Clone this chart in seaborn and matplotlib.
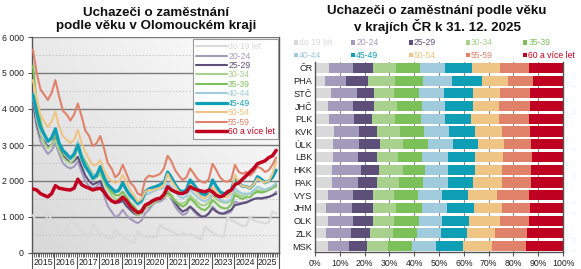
import numpy as np
import pandas as pd
import matplotlib
matplotlib.use("Agg")
import matplotlib.pyplot as plt
import seaborn as sns
from matplotlib.lines import Line2D
from matplotlib.patches import Rectangle
from matplotlib.colors import LinearSegmentedColormap
import matplotlib.transforms as mtransforms

# ---------------- data ----------------
years = list(range(2015, 2026))
sample_months = [1, 3, 5, 7, 9, 11]   # months (every 2nd month)

age_groups = ["do 19 let", "20-24", "25-29", "30-34", "35-39",
              "40-44", "45-49", "50-54", "55-59", "60 a více let"]
colors = ["#D9D9D9", "#A39BBB", "#5E4F7A", "#A9D18E", "#7CC05A",
          "#9FCBDC", "#0E9FB7", "#EEC584", "#E0826A", "#C00020"]

# Olomoucký kraj, number of job seekers by age (Jan, Mar, May, Jul, Sep, Nov of 2015..2025)
do19 = [1050, 850, 720, 680, 1150, 900,
        800, 700, 620, 580, 950, 800,
        750, 620, 520, 450, 800, 650,
        560, 480, 420, 380, 650, 550,
        460, 380, 320, 280, 600, 480,
        450, 450, 450, 450, 800, 680,
        650, 600, 550, 480, 560, 500,
        520, 480, 420, 380, 730, 640,
        560, 500, 470, 450, 1000, 900,
        870, 800, 750, 760, 1010, 900,
        870, 850, 820, 850, 1150, 1100]
age_20_24 = [4150, 3500, 3100, 2900, 2750, 2850,
             3050, 2750, 2500, 2400, 2350, 2400,
             2540, 2250, 2000, 1850, 1800, 1850,
             1950, 1600, 1300, 1150, 1000, 1050,
             1200, 1050, 950, 880, 830, 900,
             1100, 1200, 1350, 1420, 1430, 1500,
             1660, 1500, 1290, 1150, 1060, 1100,
             1290, 1150, 1050, 1010, 1000, 1100,
             1290, 1180, 1100, 1080, 1100, 1150,
             1430, 1380, 1400, 1420, 1450, 1500,
             1520, 1500, 1520, 1550, 1600, 1700]
age_25_29 = [4200, 3600, 3250, 3100, 2950, 3000,
             3180, 2900, 2700, 2600, 2500, 2550,
             2670, 2400, 2150, 2000, 1900, 1950,
             2000, 1750, 1550, 1450, 1400, 1400,
             1450, 1300, 1200, 1100, 1050, 1100,
             1240, 1300, 1400, 1450, 1500, 1550,
             1700, 1550, 1400, 1250, 1150, 1200,
             1290, 1200, 1100, 1010, 1020, 1100,
             1240, 1150, 1100, 1100, 1150, 1200,
             1330, 1350, 1380, 1400, 1450, 1500,
             1520, 1520, 1540, 1560, 1600, 1650]
age_30_34 = [4400, 3700, 3300, 3050, 2900, 3000,
             3150, 2850, 2650, 2550, 2500, 2600,
             2950, 2600, 2400, 2250, 2050, 2100,
             2200, 1950, 1750, 1600, 1500, 1500,
             1600, 1450, 1300, 1150, 1050, 1100,
             1240, 1300, 1380, 1450, 1500, 1550,
             1610, 1550, 1450, 1380, 1380, 1420,
             1600, 1500, 1400, 1330, 1330, 1400,
             1610, 1500, 1430, 1400, 1400, 1450,
             1700, 1620, 1580, 1620, 1650, 1720,
             1750, 1730, 1750, 1800, 1820, 1840]
age_35_39 = [5200, 4200, 3650, 3300, 3100, 3150,
             3280, 3000, 2810, 2700, 2630, 2750,
             3090, 2750, 2540, 2350, 2170, 2200,
             2300, 2050, 1850, 1700, 1610, 1600,
             1700, 1550, 1400, 1300, 1150, 1200,
             1330, 1380, 1430, 1500, 1520, 1600,
             1700, 1600, 1450, 1350, 1290, 1350,
             1520, 1420, 1300, 1220, 1190, 1280,
             1470, 1380, 1280, 1240, 1240, 1350,
             1610, 1550, 1500, 1550, 1550, 1650,
             1700, 1680, 1700, 1750, 1800, 1890]
age_40_44 = [4300, 3800, 3450, 3250, 3100, 3200,
             3400, 3050, 2850, 2750, 2650, 2750,
             3100, 2750, 2450, 2300, 2150, 2200,
             2350, 2100, 1900, 1800, 1700, 1700,
             1900, 1700, 1550, 1450, 1330, 1400,
             1610, 1650, 1700, 1750, 1780, 1800,
             1935, 1850, 1700, 1580, 1520, 1580,
             1750, 1650, 1550, 1470, 1430, 1500,
             1660, 1580, 1480, 1430, 1430, 1500,
             1800, 1700, 1650, 1650, 1650, 1750,
             1840, 1800, 1750, 1800, 1850, 1950]
age_45_49 = [4400, 3900, 3500, 3300, 3100, 3200,
             3450, 3050, 2850, 2750, 2630, 2750,
             3000, 2650, 2400, 2250, 2070, 2150,
             2400, 2100, 1900, 1800, 1700, 1750,
             1950, 1750, 1600, 1500, 1380, 1450,
             1700, 1780, 1820, 1850, 1900, 1950,
             2250, 2100, 1900, 1750, 1700, 1750,
             2030, 1900, 1750, 1650, 1610, 1700,
             2030, 1850, 1700, 1650, 1660, 1750,
             2070, 1950, 1850, 1850, 1800, 1900,
             2120, 2050, 1950, 2000, 2100, 2300]
age_50_54 = [4800, 4300, 3850, 3650, 3500, 3650,
             3930, 3500, 3250, 3150, 3050, 3150,
             3420, 3050, 2800, 2600, 2440, 2450,
             2580, 2300, 2100, 2000, 1950, 1980,
             2170, 1950, 1750, 1600, 1430, 1500,
             1700, 1750, 1750, 1780, 1800, 1900,
             2200, 2000, 1850, 1700, 1660, 1700,
             1890, 1800, 1650, 1550, 1520, 1600,
             1840, 1700, 1600, 1550, 1560, 1650,
             2170, 1950, 1850, 1850, 1800, 1900,
             2070, 2000, 1950, 2000, 2200, 2550]
age_55_59 = [5650, 5000, 4550, 4400, 4250, 4450,
             4800, 4350, 3950, 3850, 3680, 3850,
             4150, 3800, 3400, 3250, 2970, 3050,
             3250, 2900, 2500, 2350, 2100, 2200,
             2450, 2200, 1950, 1850, 1650, 1600,
             2050, 2150, 2120, 2150, 2200, 2350,
             2700, 2550, 2300, 2150, 2030, 2100,
             2350, 2200, 2050, 1980, 1950, 2050,
             2480, 2300, 2100, 2000, 1980, 2050,
             2450, 2250, 2200, 2250, 2150, 2250,
             2400, 2350, 2250, 2300, 2450, 2650]
age_60_plus = [1780, 1750, 1650, 1600, 1560, 1650,
               1870, 1800, 1780, 1760, 1750, 1800,
               2050, 1900, 1840, 1800, 1750, 1780,
               1800, 1700, 1550, 1450, 1400, 1450,
               1550, 1450, 1300, 1200, 1120, 1150,
               1330, 1380, 1450, 1500, 1520, 1620,
               1840, 1750, 1700, 1660, 1650, 1700,
               1840, 1780, 1750, 1720, 1700, 1750,
               1700, 1600, 1560, 1600, 1700, 1750,
               1900, 1950, 2050, 2150, 2250, 2350,
               2480, 2520, 2560, 2650, 2700, 2850]

y_ticks = [0, 1000, 2000, 3000, 4000, 5000, 6000]
y_tick_labels = ["0", "1 000", "2 000", "3 000", "4 000", "5 000", "6 000"]

# Regions, share (%) of each age group at 31.12.2025
regions = ["ČR", "PHA", "STČ", "JHČ", "PLK", "KVK", "ÚLK", "LBK",
           "HKK", "PAK", "VYS", "JHM", "OLK", "ZLK", "MSK"]
share_do19 = [5.6, 4.0, 6.5, 5.1, 5.8, 7.8, 7.4, 7.4, 7.0, 6.7, 5.1, 4.4, 5.4, 4.4, 5.4]
share_20_24 = [9.8, 8.4, 10.3, 10.3, 9.9, 9.9, 10.5, 10.1, 11.4, 10.5, 10.3, 10.4, 10.0, 10.1, 8.4]
share_25_29 = [7.9, 9.1, 7.0, 8.5, 7.4, 7.4, 8.3, 7.4, 7.5, 7.7, 7.9, 8.5, 7.9, 7.7, 7.0]
share_30_34 = [9.4, 10.8, 8.1, 9.0, 9.2, 9.2, 9.4, 8.7, 9.4, 9.1, 8.7, 9.4, 8.7, 9.1, 8.8]
share_35_39 = [9.6, 11.4, 10.0, 10.4, 10.4, 9.8, 9.8, 9.7, 9.1, 9.7, 9.7, 10.3, 10.1, 9.7, 9.6]
share_40_44 = [10.1, 11.7, 10.3, 9.1, 9.7, 9.9, 10.1, 10.5, 9.4, 9.8, 9.4, 10.4, 9.2, 9.8, 9.5]
share_45_49 = [10.8, 11.8, 11.4, 11.2, 10.5, 10.5, 10.1, 10.7, 10.7, 10.3, 10.5, 10.8, 10.9, 10.4, 10.8]
share_50_54 = [11.4, 10.8, 11.0, 10.7, 11.3, 10.8, 10.6, 11.4, 10.8, 11.7, 11.9, 11.1, 12.4, 11.4, 11.7]
share_55_59 = [11.8, 9.8, 12.1, 12.4, 12.2, 11.4, 10.8, 11.7, 11.7, 11.5, 12.9, 11.4, 11.8, 13.0, 13.7]
share_60_plus = [13.6, 12.2, 13.3, 13.3, 13.6, 13.3, 13.0, 12.4, 13.0, 13.0, 13.6, 13.3, 13.6, 14.4, 15.1]

x_tick_pct = [0, 10, 20, 30, 40, 50, 60, 70, 80, 90, 100]

title_left = "Uchazeči o zaměstnání\npodle věku v Olomouckém kraji"
title_right = "Uchazeči o zaměstnání podle věku\nv krajích ČR k 31. 12. 2025"

# ---------------- style ----------------
sns.set_style("ticks")
plt.rcParams["font.family"] = ["Liberation Sans", "DejaVu Sans"]

W, H = 581, 269
fig = plt.figure(figsize=(W / 100, H / 100), dpi=100)
fig.patch.set_facecolor("white")

def ax_rect(x0, y0, x1, y1):
    return [x0 / W, 1 - y1 / H, (x1 - x0) / W, (y1 - y0) / H]

# ---------------- left chart ----------------
ax1 = fig.add_axes(ax_rect(32, 37, 279, 253))

series = [do19, age_20_24, age_25_29, age_30_34, age_35_39,
          age_40_44, age_45_49, age_50_54, age_55_59, age_60_plus]
dates = [y + (m - 1) / 12 + 1 / 24 for y in years for m in sample_months]
rows = []
for name, vals in zip(age_groups, series):
    for d, v in zip(dates, vals):
        rows.append({"date": d, "value": v, "group": name})
df = pd.DataFrame(rows)

palette = dict(zip(age_groups, colors))
sizes = {g: 1.5 for g in age_groups}
sizes["45-49"] = 2.3
sizes["60 a více let"] = 2.5

# gradient background
gx, gy = np.meshgrid(np.linspace(0, 1, 64), np.linspace(0, 1, 64))
grad = 0.55 * (1 - gx) + 0.45 * (1 - gy)
cmap = LinearSegmentedColormap.from_list("bg", ["#FFFFFF", "#D8D8D8"])
ax1.imshow(grad, cmap=cmap, origin="lower", extent=[0, 1, 0, 1],
           transform=ax1.transAxes, aspect="auto", zorder=0)

sns.lineplot(data=df, x="date", y="value", hue="group", hue_order=age_groups,
             palette=palette, size="group", sizes=sizes, size_order=age_groups,
             legend=False, ax=ax1, zorder=3, solid_capstyle="round")

ax1.set_xlim(2015, 2026)
ax1.set_ylim(0, 6000)
ax1.set_xlabel("")
ax1.set_ylabel("")
ax1.set_yticks(y_ticks)
ax1.set_yticklabels(y_tick_labels)
ax1.set_yticks([500, 1500, 2500, 3500, 4500, 5500], minor=True)
ax1.yaxis.grid(True, which="major", color="#7a7a7a", lw=1.0, ls="-", zorder=1)
ax1.yaxis.grid(True, which="minor", color="#c4c4c4", lw=0.6, ls=(0, (2, 2)), zorder=1)
ax1.set_axisbelow(True)
ax1.tick_params(axis="y", which="major", length=3, width=0.8, color="#555555",
                labelsize=6.3, pad=3, labelcolor="#222222")
ax1.tick_params(axis="y", which="minor", length=0)

ax1.set_xticks(list(range(2015, 2027)))
ax1.set_xticklabels([""] * 12)
ax1.set_xticks(np.arange(2015, 2026, 1 / 12), minor=True)
ax1.tick_params(axis="x", which="major", length=14, width=0.8, color="#555555")
ax1.tick_params(axis="x", which="minor", length=3, width=0.6, color="#555555")
trans = mtransforms.blended_transform_factory(ax1.transData, ax1.transAxes)
for y in years:
    ax1.text(y + 0.5, -0.025, str(y), transform=trans, ha="center", va="top",
             fontsize=6.3, color="#222222")

for s in ["left", "bottom", "right"]:
    ax1.spines[s].set_color("#555555")
    ax1.spines[s].set_linewidth(1.0)
ax1.spines["top"].set_visible(False)

handles = [Line2D([0], [0], color=c, lw=sizes[g]) for g, c in zip(age_groups, colors)]
leg = ax1.legend(handles, age_groups, loc="upper right", bbox_to_anchor=(0.996, 0.99),
                 fontsize=6.2, frameon=True, fancybox=False, framealpha=1,
                 edgecolor="#9a9a9a", handlelength=3.6, handletextpad=0.15,
                 labelspacing=0.05, borderpad=0.35, borderaxespad=0.0,
                 labelcolor=colors)
leg.get_frame().set_linewidth(0.8)
leg.set_zorder(5)

fig.text(156 / W, 1 - 19.5 / H, title_left, ha="center", va="center",
         fontsize=9.6, fontweight="bold", linespacing=1.12, color="#111111")

# ---------------- right chart ----------------
ax2 = fig.add_axes(ax_rect(315, 61.6, 563, 252.4))
shares = np.array([share_do19, share_20_24, share_25_29, share_30_34, share_35_39,
                   share_40_44, share_45_49, share_50_54, share_55_59, share_60_plus])
cum = np.cumsum(shares, axis=0)
cum = cum / cum[-1] * 100
for i in range(len(age_groups) - 1, -1, -1):
    sns.barplot(x=cum[i], y=regions, orient="h", color=colors[i], saturation=1,
                width=0.8, errorbar=None, ax=ax2, zorder=2, linewidth=0)

ax2.set_xlim(0, 100)
ax2.set_ylim(len(regions) - 0.5, -0.5)
ax2.set_xlabel("")
ax2.set_ylabel("")
ax2.set_xticks(x_tick_pct)
ax2.set_xticklabels([f"{v}%" for v in x_tick_pct])
ax2.xaxis.grid(True, color="#8a8a8a", lw=0.8, zorder=0)
ax2.set_axisbelow(True)
ax2.tick_params(axis="x", length=3, width=0.8, color="#555555", labelsize=6.3,
                pad=2, labelcolor="#222222")
ax2.tick_params(axis="y", length=0, labelsize=6.6, pad=2, labelcolor="#222222")
for s in ["left", "bottom", "right"]:
    ax2.spines[s].set_color("#555555")
    ax2.spines[s].set_linewidth(1.0)
ax2.spines["top"].set_visible(False)

fig.text(437 / W, 1 - 19.5 / H, title_right, ha="center", va="center",
         fontsize=9.6, fontweight="bold", linespacing=1.12, color="#111111")

# right legend (2 rows x 5 columns)
for i, (g, c) in enumerate(zip(age_groups, colors)):
    r, col = divmod(i, 5)
    x = 296 + 57.3 * col
    y = 42.5 + 12.8 * r
    fig.add_artist(Rectangle(((x - 2) / W, 1 - (y + 2) / H), 4 / W, 4 / H,
                             transform=fig.transFigure, color=c, lw=0))
    fig.text((x + 3) / W, 1 - y / H, g, ha="left", va="center", fontsize=6.2, color=c)

fig.savefig("out.png", dpi=100, facecolor="white")
